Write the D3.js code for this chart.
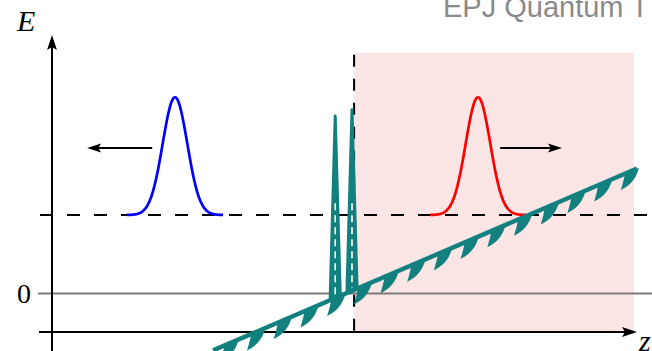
<!DOCTYPE html>
<html>
<head>
<meta charset="utf-8">
<script src="https://cdn.jsdelivr.net/npm/d3@7"></script>
<style>
  body { margin: 0; background: #fff; }
  svg { display: block; }
</style>
</head>
<body>
<svg id="chart" width="652" height="351"></svg>
<script>
// ---- data (z in length units, E in units of the packet energy) ----
const energyLevel = 1;                 // dashed line: energy of the packet
const barrierZ = 0;                    // vertical dashed line
const regionZ = [0, 9.33];             // shaded region
const regionE = [-0.5, 3.08];
const potentialZ = [-4.7, 9.43];       // tilted potential
const potentialE = [-0.736, 1.596];
const spikeZ = [-0.63, -0.07];         // barrier spikes
const spikeTopE = [2.27, 2.35];
const spikeHalfWidth = 0.17;
const packetZ = [-5.97, 4.13];         // wave packets
const packetColor = ['#0000ff', '#ff0000'];
const packetAmp = 1.51;
const packetSigma = 0.41;
const packetSpan = 1.6;
const arrowFromZ = [-6.73, 4.87];
const arrowToZ = [-8.9, 6.93];
const arrowE = 1.86;
const hatchStep = 0.89;
const hatchStartZ = -3.96;

const teal = '#12807f';

const svg = d3.select('#chart');
const width = +svg.attr('width');
const height = +svg.attr('height');

const x = d3.scaleLinear().domain([-10.07, 9.33]).range([52, 634]);
const y = d3.scaleLinear().domain([-0.5, 3.3]).range([332, 35.6]);

const V = z => potentialE[0] + (z - potentialZ[0]) * (potentialE[1] - potentialE[0]) / (potentialZ[1] - potentialZ[0]);

// shaded region
svg.append('rect')
    .attr('x', x(regionZ[0]))
    .attr('y', y(regionE[1]))
    .attr('width', x(regionZ[1]) - x(regionZ[0]))
    .attr('height', y(regionE[0]) - y(regionE[1]))
    .attr('fill', '#fce5e5');

// zero line + "0" label through an axis
const yAxis = d3.axisLeft(y)
    .tickValues([0])
    .tickFormat(d3.format('d'))
    .tickSizeInner(-(width - 38))
    .tickSizeOuter(0)
    .tickPadding(7);

const gy = svg.append('g')
    .attr('transform', 'translate(38,0)')
    .call(yAxis);
gy.select('.domain').remove();
gy.selectAll('.tick line').attr('stroke', '#7a7a7a').attr('stroke-width', 2);
gy.selectAll('.tick text')
    .attr('font-family', '"Liberation Serif", "DejaVu Serif", serif')
    .attr('font-size', 28)
    .attr('fill', '#000')
    .attr('dy', '0.34em');

// dashed lines
svg.append('line')
    .attr('x1', 40).attr('x2', width)
    .attr('y1', y(energyLevel)).attr('y2', y(energyLevel))
    .attr('stroke', '#000').attr('stroke-width', 2)
    .attr('stroke-dasharray', '13,14');

svg.append('line')
    .attr('x1', x(barrierZ)).attr('x2', x(barrierZ))
    .attr('y1', y(regionE[1])).attr('y2', y(regionE[0]))
    .attr('stroke', '#000').attr('stroke-width', 2)
    .attr('stroke-dasharray', '12,12')
    .attr('stroke-dashoffset', -2);

// arrow head path, tip at (tx, ty), pointing along angle a
function arrowHead(tx, ty, a, L = 15, W = 10) {
    const c = Math.cos(a), s = Math.sin(a);
    const p = (u, v) => [tx + u * c - v * s, ty + u * s + v * c];
    const pts = [p(0, 0), p(-L, -W / 2), p(-0.8 * L, 0), p(-L, W / 2)];
    return 'M' + pts.map(q => q.join(',')).join('L') + 'Z';
}

// axes
svg.append('line')
    .attr('x1', 52).attr('x2', 52)
    .attr('y1', height + 2).attr('y2', 44)
    .attr('stroke', '#000').attr('stroke-width', 2);
svg.append('path')
    .attr('d', arrowHead(52, 35, -Math.PI / 2))
    .attr('fill', '#000');

svg.append('line')
    .attr('x1', 39).attr('x2', 628)
    .attr('y1', 332).attr('y2', 332)
    .attr('stroke', '#000').attr('stroke-width', 2);
svg.append('path')
    .attr('d', arrowHead(637, 332, 0))
    .attr('fill', '#000');

// axis labels
svg.append('text')
    .attr('x', 17).attr('y', 31)
    .attr('font-family', '"Liberation Serif", "DejaVu Serif", serif')
    .attr('font-style', 'italic')
    .attr('font-size', 30)
    .text('E');

svg.append('text')
    .attr('x', 639).attr('y', 351)
    .attr('font-family', '"Liberation Serif", "DejaVu Serif", serif')
    .attr('font-style', 'italic')
    .attr('font-size', 30)
    .text('z');

// wave packets
const packetLine = d3.line().x(d => x(d[0])).y(d => y(d[1])).curve(d3.curveBasis);
packetZ.forEach((c, i) => {
    const pts = d3.range(c - packetSpan, c + packetSpan + 1e-9, 0.02)
        .map(z => [z, energyLevel + packetAmp * Math.exp(-((z - c) ** 2) / (2 * packetSigma ** 2))]);
    svg.append('path')
        .attr('d', packetLine(pts))
        .attr('fill', 'none')
        .attr('stroke', packetColor[i])
        .attr('stroke-width', 2.7);
});

// motion arrows
arrowFromZ.forEach((z0, i) => {
    const z1 = arrowToZ[i];
    const dir = z1 > z0 ? 0 : Math.PI;
    const back = z1 > z0 ? -10 : 10;
    svg.append('line')
        .attr('x1', x(z0)).attr('x2', x(z1) + back)
        .attr('y1', y(arrowE)).attr('y2', y(arrowE))
        .attr('stroke', '#000').attr('stroke-width', 2);
    svg.append('path')
        .attr('d', arrowHead(x(z1), y(arrowE), dir, 14, 9))
        .attr('fill', '#000');
});

// potential with hatching
const hatchZ = d3.range(hatchStartZ, potentialZ[1] + 0.01, hatchStep);
svg.selectAll('.hatch')
    .data(hatchZ)
    .enter().append('path')
    .attr('class', 'hatch')
    .attr('d', z => {
        const px = x(z), py = y(V(z));
        return `M${px + 3},${py - 1} C${px + 1},${py + 9} ${px - 6},${py + 17} ${px - 15},${py + 21} ` +
               `C${px - 13},${py + 14} ${px - 11},${py + 8} ${px - 11},${py + 3} Z`;
    })
    .attr('fill', teal);

svg.append('path')
    .attr('d', d3.line().x(d => x(d[0])).y(d => y(d[1]))(potentialZ.map((z, i) => [z, potentialE[i]])))
    .attr('fill', 'none')
    .attr('stroke', teal)
    .attr('stroke-width', 4.5);

// spikes
spikeZ.forEach((c, i) => {
    const pts = [
        [c - spikeHalfWidth, V(c - spikeHalfWidth)],
        [c, spikeTopE[i]],
        [c + spikeHalfWidth, V(c + spikeHalfWidth)]
    ];
    svg.append('path')
        .attr('d', d3.line().x(d => x(d[0])).y(d => y(d[1]))(pts) + 'Z')
        .attr('fill', teal)
        .attr('stroke', teal)
        .attr('stroke-width', 3)
        .attr('stroke-linejoin', 'round');
    svg.append('line')
        .attr('x1', x(c)).attr('x2', x(c))
        .attr('y1', y(1.15)).attr('y2', y(V(c)) - 3)
        .attr('stroke', '#fff')
        .attr('stroke-width', 1.6)
        .attr('stroke-dasharray', '7,5');
});

// header text
svg.append('text')
    .attr('x', 443).attr('y', 17)
    .attr('font-family', '"Liberation Sans", Arial, sans-serif')
    .attr('font-size', 29)
    .attr('fill', '#8a8a8a')
    .text('EPJ Quantum T');
</script>
</body>
</html>
